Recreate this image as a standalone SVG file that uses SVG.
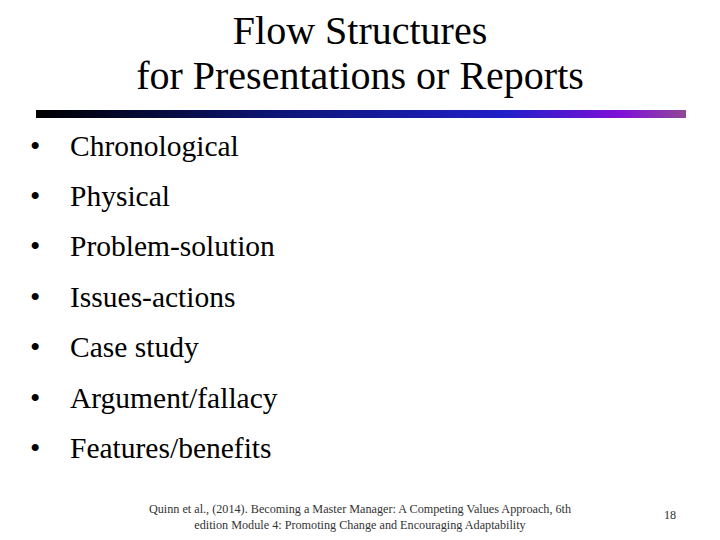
<svg xmlns="http://www.w3.org/2000/svg" width="720" height="540" viewBox="0 0 720 540">
<defs>
<linearGradient id="g" x1="0" x2="1" y1="0" y2="0">
<stop offset="0" stop-color="#000000"/>
<stop offset="0.35" stop-color="#0c1470"/>
<stop offset="0.72" stop-color="#2020c8"/>
<stop offset="0.9" stop-color="#8010d8"/>
<stop offset="1" stop-color="#904898"/>
</linearGradient>
<style>
text{font-family:"Liberation Serif","Times New Roman",serif;fill:#000}
.t{font-size:40px;text-anchor:middle}
.b{font-size:29.5px}
.f{font-size:12.2px;text-anchor:middle;fill:#333}
</style>
</defs>
<rect width="720" height="540" fill="#fff"/>
<text class="t" x="360" y="44">Flow Structures</text>
<text class="t" x="360" y="89">for Presentations or Reports</text>
<rect x="36" y="110" width="650" height="8" fill="url(#g)"/>
<g class="b">
<text x="30" y="156">•</text><text x="70" y="156">Chronological</text>
<text x="30" y="206">•</text><text x="70" y="206">Physical</text>
<text x="30" y="256">•</text><text x="70" y="256">Problem-solution</text>
<text x="30" y="307">•</text><text x="70" y="307">Issues-actions</text>
<text x="30" y="357">•</text><text x="70" y="357">Case study</text>
<text x="30" y="408">•</text><text x="70" y="408">Argument/fallacy</text>
<text x="30" y="458">•</text><text x="70" y="458">Features/benefits</text>
</g>
<text class="f" x="360" y="513">Quinn et al., (2014). Becoming a Master Manager: A Competing Values Approach, 6th</text>
<text class="f" x="360" y="529">edition  Module 4:  Promoting Change and Encouraging Adaptability</text>
<text class="f" x="670" y="519">18</text>
</svg>
